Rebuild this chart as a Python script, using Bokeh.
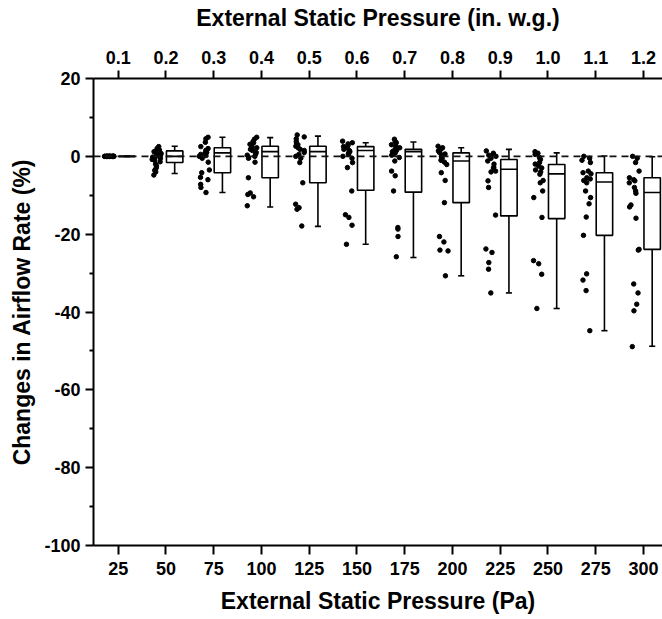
from bokeh.plotting import figure
from bokeh.models import (ColumnDataSource, Range1d, LinearAxis, FixedTicker, Span)
from bokeh.transform import dodge, jitter
from bokeh.embed import file_html
from bokeh.resources import INLINE

# ---------------- data ----------------
pressures_pa = [25, 50, 75, 100, 125, 150, 175, 200, 225, 250, 275, 300]
pressures_inwg = ["0.1", "0.2", "0.3", "0.4", "0.5", "0.6", "0.7", "0.8", "0.9", "1.0", "1.1", "1.2"]

box_upper = [0.0, 2.6, 4.9, 4.8, 5.2, 3.5, 3.7, 2.2, 1.8, 0.9, 0.1, -0.1]
box_q3 = [0.0, 1.4, 2.2, 2.6, 2.6, 2.5, 1.8, 0.9, -0.8, -2.1, -4.2, -5.5]
box_median = [0.0, 0.0, 0.9, 1.2, 1.2, 1.5, 1.2, -1.2, -3.3, -4.5, -6.6, -9.3]
box_q1 = [0.0, -1.6, -4.2, -5.5, -6.8, -8.7, -9.2, -11.9, -15.3, -16.0, -20.3, -23.9]
box_lower = [0.0, -4.4, -9.3, -13.0, -18.0, -22.6, -26.0, -30.7, -35.1, -39.1, -44.8, -48.8]

pts_25 = [0.0, 0.0, 0.0, 0.0, 0.0, 0.0, 0.0, 0.0, 0.0, 0.0, 0.0, 0.0, 0.0, 0.0, 0.0, 0.0, 0.0, 0.0, 0.0, 0.0]
pts_50 = [2.5, 2.0, 1.6, 1.2, 1.0, 0.7, 0.4, 0.2, 0.0, -0.2, -0.5, -0.8, -1.0, -1.4, -2.0, -2.5, -3.0, -3.6, -4.0, -4.8]
pts_75 = [4.9, 4.5, 3.6, 2.5, 2.0, 1.5, 1.0, 0.8, 0.5, 0.2, 0.0, -0.5, -1.5, -3.5, -4.2, -5.4, -6.0, -7.2, -8.0, -9.3]
pts_100 = [4.9, 4.4, 3.8, 3.5, 3.1, 2.5, 2.2, 1.8, 1.5, 1.0, 0.6, 0.3, 0.0, -0.5, -1.5, -5.5, -9.4, -9.8, -10.4, -12.7]
pts_125 = [5.5, 5.0, 4.5, 3.8, 3.3, 3.0, 2.6, 2.2, 1.8, 1.5, 1.0, 0.5, 0.0, -0.5, -1.6, -6.8, -12.3, -13.2, -13.6, -17.9]
pts_150 = [3.9, 3.5, 3.2, 2.8, 2.5, 2.2, 1.8, 1.5, 1.2, 0.8, 0.5, 0.0, -0.5, -1.6, -2.9, -8.9, -15.0, -15.7, -17.7, -22.6]
pts_175 = [4.4, 3.8, 3.5, 3.0, 2.6, 2.2, 1.8, 1.5, 1.2, 0.8, 0.3, -0.3, -1.2, -3.8, -5.0, -8.9, -18.3, -18.7, -20.6, -25.8]
pts_200 = [2.6, 2.2, 1.8, 1.4, 1.0, 0.6, 0.3, 0.0, -0.5, -1.0, -1.5, -2.1, -4.2, -6.2, -11.9, -20.6, -22.0, -24.1, -24.3, -30.7]
pts_225 = [1.4, 0.8, 0.5, 0.3, 0.0, -0.5, -1.2, -2.0, -2.8, -3.0, -3.8, -4.0, -6.3, -8.0, -15.1, -23.8, -24.7, -27.3, -29.0, -35.1]
pts_250 = [1.2, 0.8, 0.5, -0.3, -0.8, -1.6, -2.0, -2.5, -3.0, -3.5, -4.0, -4.6, -6.2, -6.8, -8.9, -10.6, -15.7, -26.8, -27.6, -30.3, -39.1]
pts_275 = [0.0, -0.5, -1.0, -1.6, -3.8, -4.2, -4.5, -5.5, -5.8, -6.2, -6.8, -8.9, -10.6, -12.2, -15.6, -20.3, -30.2, -31.8, -34.5, -44.8]
pts_300 = [0.0, -0.5, -1.6, -3.8, -5.5, -6.0, -6.3, -6.8, -8.0, -8.9, -9.5, -12.5, -13.0, -15.9, -23.9, -24.1, -32.8, -35.1, -38.0, -39.7, -48.9]

all_points = [pts_25, pts_50, pts_75, pts_100, pts_125, pts_150, pts_175,
              pts_200, pts_225, pts_250, pts_275, pts_300]

y_major = [20, 0, -20, -40, -60, -80, -100]
y_major_labels = ["20", "0", "-20", "-40", "-60", "-80", "-100"]
y_minor = [10, -10, -30, -50, -70, -90]

# ---------------- styling constants ----------------
FONT = "Liberation Sans"
BOX_OFF = 4.6      # box offset to the right of the tick (Pa units)
BOX_W = 8.6
CAP_W = 3.2
PT_OFF = -4.8      # scatter offset to the left of the tick
PT_W = 5.5

scatter_x, scatter_y = [], []
for p_val, pts in zip(pressures_pa, all_points):
    for v in pts:
        scatter_x.append(p_val)
        scatter_y.append(v)
pts_src = ColumnDataSource(dict(x=scatter_x, y=scatter_y))

box_src = ColumnDataSource(dict(x=pressures_pa, upper=box_upper, q3=box_q3,
                                med=box_median, q1=box_q1, lower=box_lower))

p = figure(width=662, height=619, output_backend="svg", toolbar_location=None,
           x_range=Range1d(12.1, 310.0), y_range=Range1d(-100, 20),
           min_border_left=93, min_border_right=0, min_border_top=78, min_border_bottom=74,
           x_axis_location=None, y_axis_location=None)
p.outline_line_color = None
p.xgrid.visible = False
p.ygrid.visible = False
p.background_fill_color = "white"
p.border_fill_color = "white"

def style_axis(ax, tick_out):
    ax.axis_line_width = 2
    ax.axis_line_color = "black"
    ax.major_tick_line_width = 2
    ax.major_tick_line_color = "black"
    ax.minor_tick_line_width = 2
    ax.minor_tick_line_color = "black"
    ax.major_tick_in = 0
    ax.major_tick_out = tick_out
    ax.minor_tick_in = 0
    ax.major_label_text_font = FONT
    ax.major_label_text_font_style = "bold"
    ax.major_label_text_font_size = "18px"
    ax.major_label_text_color = "black"
    ax.axis_label_text_font = FONT
    ax.axis_label_text_font_style = "bold"
    ax.axis_label_text_font_size = "23px"
    ax.axis_label_text_color = "black"

xb = LinearAxis(ticker=FixedTicker(ticks=pressures_pa, minor_ticks=[]),
                axis_label="External Static Pressure (Pa)")
style_axis(xb, 9)
xb.minor_tick_out = 0
xb.major_label_standoff = 7
xb.axis_label_standoff = 10
p.add_layout(xb, "below")

xt = LinearAxis(ticker=FixedTicker(ticks=pressures_pa, minor_ticks=[]),
                axis_label="External Static Pressure (in. w.g.)",
                major_label_overrides={pv: lab for pv, lab in zip(pressures_pa, pressures_inwg)})
style_axis(xt, 8)
xt.minor_tick_out = 0
xt.major_label_standoff = 7
xt.axis_label_standoff = 17
p.add_layout(xt, "above")

yl = LinearAxis(ticker=FixedTicker(ticks=y_major, minor_ticks=y_minor),
                axis_label="Changes in Airflow Rate (%)",
                major_label_overrides={tv: lab for tv, lab in zip(y_major, y_major_labels)})
style_axis(yl, 8)
yl.minor_tick_out = 4
yl.major_label_standoff = 5
yl.axis_label_standoff = 6
p.add_layout(yl, "left")

# whiskers
p.segment(x0=dodge("x", BOX_OFF, range=p.x_range), y0="q3",
          x1=dodge("x", BOX_OFF, range=p.x_range), y1="upper",
          source=box_src, line_color="black", line_width=1.6)
p.segment(x0=dodge("x", BOX_OFF, range=p.x_range), y0="q1",
          x1=dodge("x", BOX_OFF, range=p.x_range), y1="lower",
          source=box_src, line_color="black", line_width=1.6)
# caps
for fld in ("upper", "lower"):
    p.segment(x0=dodge("x", BOX_OFF - CAP_W / 2, range=p.x_range), y0=fld,
              x1=dodge("x", BOX_OFF + CAP_W / 2, range=p.x_range), y1=fld,
              source=box_src, line_color="black", line_width=1.6)
# boxes
p.vbar(x=dodge("x", BOX_OFF, range=p.x_range), width=BOX_W, top="q3", bottom="q1",
       source=box_src, fill_color="white", line_color="black", line_width=1.6)
# medians
p.segment(x0=dodge("x", BOX_OFF - BOX_W / 2, range=p.x_range), y0="med",
          x1=dodge("x", BOX_OFF + BOX_W / 2, range=p.x_range), y1="med",
          source=box_src, line_color="black", line_width=1.6)

# zero reference line
p.add_layout(Span(location=0, dimension="width", line_color="#111111",
                  line_width=1.8, line_dash="7 5"))

# individual points
p.scatter(x=jitter("x", width=PT_W, mean=PT_OFF, range=p.x_range), y="y",
          source=pts_src, size=4.5, color="black", marker="circle")

open("out.html", "w").write(file_html(p, INLINE))
